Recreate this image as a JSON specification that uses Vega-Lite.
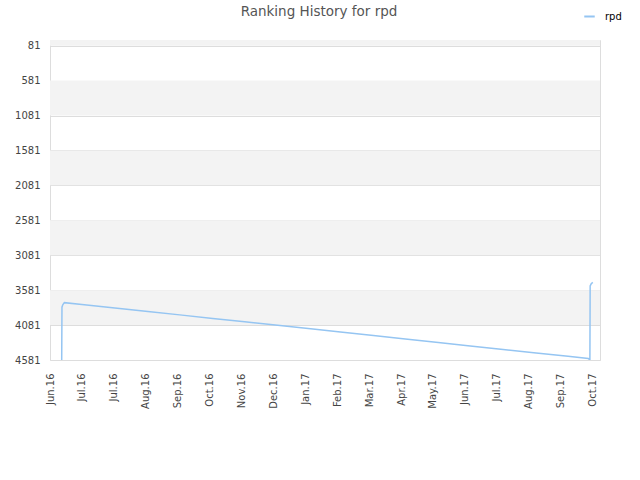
{
  "$schema": "https://vega.github.io/schema/vega-lite/v6.json",
  "width": 550,
  "height": 320,
  "autosize": "none",
  "padding": {"left": 50, "top": 40, "right": 40, "bottom": 120},
  "background": "white",
  "config": {
    "font": "DejaVu Sans",
    "view": {"stroke": "#dddddd", "strokeWidth": 1}
  },
  "title": {
    "text": "Ranking History for rpd",
    "fontSize": 13.5,
    "fontWeight": "normal",
    "color": "#555555",
    "font": "DejaVu Sans",
    "anchor": "middle",
    "frame": "group",
    "offset": 22,
    "dx": -6,
    "dy": 30
  },
  "datasets": {
    "bands": [
      {"lo": 0, "hi": 81},
      {"lo": 581, "hi": 1081},
      {"lo": 1581, "hi": 2081},
      {"lo": 2581, "hi": 3081},
      {"lo": 3581, "hi": 4081}
    ],
    "rank": [
      {"date": "2016-06-12T00:00:00", "rank": 4581, "series": "rpd"},
      {"date": "2016-06-12T06:00:00", "rank": 3825, "series": "rpd"},
      {"date": "2016-06-13T00:00:00", "rank": 3790, "series": "rpd"},
      {"date": "2016-06-14T12:00:00", "rank": 3760, "series": "rpd"},
      {"date": "2016-07-01T00:00:00", "rank": 3786, "series": "rpd"},
      {"date": "2016-08-01T00:00:00", "rank": 3836, "series": "rpd"},
      {"date": "2016-09-01T00:00:00", "rank": 3886, "series": "rpd"},
      {"date": "2016-10-01T00:00:00", "rank": 3935, "series": "rpd"},
      {"date": "2016-11-01T00:00:00", "rank": 3986, "series": "rpd"},
      {"date": "2016-12-01T00:00:00", "rank": 4035, "series": "rpd"},
      {"date": "2017-01-01T00:00:00", "rank": 4085, "series": "rpd"},
      {"date": "2017-02-01T00:00:00", "rank": 4135, "series": "rpd"},
      {"date": "2017-03-01T00:00:00", "rank": 4181, "series": "rpd"},
      {"date": "2017-04-01T00:00:00", "rank": 4231, "series": "rpd"},
      {"date": "2017-05-01T00:00:00", "rank": 4280, "series": "rpd"},
      {"date": "2017-06-01T00:00:00", "rank": 4331, "series": "rpd"},
      {"date": "2017-07-01T00:00:00", "rank": 4380, "series": "rpd"},
      {"date": "2017-08-01T00:00:00", "rank": 4430, "series": "rpd"},
      {"date": "2017-09-01T00:00:00", "rank": 4480, "series": "rpd"},
      {"date": "2017-10-01T00:00:00", "rank": 4529, "series": "rpd"},
      {"date": "2017-10-20T00:00:00", "rank": 4560, "series": "rpd"},
      {"date": "2017-10-21T12:00:00", "rank": 4581, "series": "rpd"},
      {"date": "2017-10-21T18:00:00", "rank": 3520, "series": "rpd"},
      {"date": "2017-10-22T18:00:00", "rank": 3490, "series": "rpd"},
      {"date": "2017-10-24T06:00:00", "rank": 3470, "series": "rpd"}
    ]
  },
  "layer": [
    {
      "data": {"name": "bands"},
      "mark": {"type": "rect", "fill": "#f3f3f3"},
      "encoding": {
        "y": {
          "field": "lo",
          "type": "quantitative",
          "scale": {"domain": [0, 4581], "reverse": true, "nice": false, "zero": false},
          "axis": {
            "title": null,
            "values": [81, 581, 1081, 1581, 2081, 2581, 3081, 3581, 4081, 4581],
            "format": "d",
            "labelFontSize": 10,
            "labelColor": "#444444",
            "labelPadding": 10,
            "ticks": false,
            "domain": false,
            "grid": true,
            "gridColor": "#dddddd",
            "labelOverlap": false,
            "labelFlush": false
          }
        },
        "y2": {"field": "hi"}
      }
    },
    {
      "data": {"name": "rank"},
      "mark": {"type": "line", "strokeWidth": 1.5, "clip": true},
      "encoding": {
        "x": {
          "field": "date",
          "type": "temporal",
          "scale": {"domain": ["2016-06-01T00:00:00", "2017-10-31T00:00:00"], "nice": false},
          "axis": {
            "title": null,
            "values": ["2016-06-01T00:00:00", "2016-07-01T00:00:00", "2016-07-31T00:00:00", "2016-08-30T00:00:00", "2016-09-29T00:00:00", "2016-10-29T00:00:00", "2016-11-28T00:00:00", "2016-12-28T00:00:00", "2017-01-27T00:00:00", "2017-02-26T00:00:00", "2017-03-28T00:00:00", "2017-04-27T00:00:00", "2017-05-27T00:00:00", "2017-06-26T00:00:00", "2017-07-26T00:00:00", "2017-08-25T00:00:00", "2017-09-24T00:00:00", "2017-10-24T00:00:00"],
            "format": "%b.%y",
            "labelAngle": -90,
            "labelAlign": "right",
            "labelBaseline": "middle",
            "labelFontSize": 10,
            "labelColor": "#444444",
            "labelPadding": 13,
            "ticks": false,
            "domain": false,
            "grid": false,
            "labelOverlap": false,
            "labelFlush": false,
            "labelBound": false
          }
        },
        "y": {
          "field": "rank",
          "type": "quantitative",
          "scale": {"domain": [0, 4581], "reverse": true, "nice": false, "zero": false},
          "axis": {
            "title": null,
            "values": [81, 581, 1081, 1581, 2081, 2581, 3081, 3581, 4081, 4581],
            "format": "d",
            "labelFontSize": 10,
            "labelColor": "#444444",
            "labelPadding": 10,
            "ticks": false,
            "domain": false,
            "grid": true,
            "gridColor": "#dddddd",
            "labelOverlap": false,
            "labelFlush": false
          }
        },
        "color": {
          "field": "series",
          "type": "nominal",
          "scale": {"range": ["#95c5f2"]},
          "legend": {
            "title": null,
            "orient": "none",
            "legendX": 533,
            "legendY": -30,
            "symbolType": "stroke",
            "symbolSize": 110,
            "symbolStrokeWidth": 2,
            "labelFontSize": 10,
            "labelColor": "#000000",
            "labelOffset": 9
          }
        }
      }
    }
  ]
}
